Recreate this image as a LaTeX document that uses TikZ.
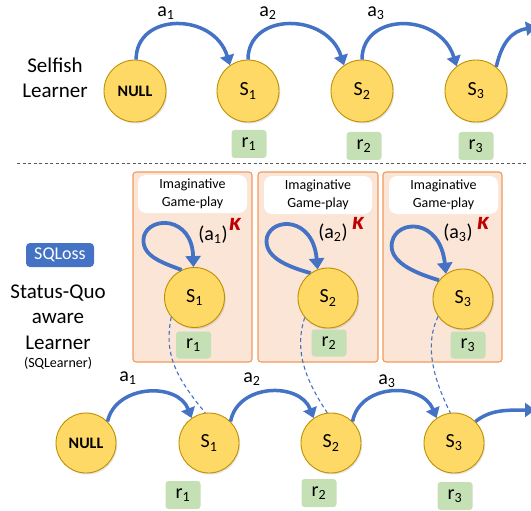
\documentclass[tikz,border=0pt]{standalone}
\usepackage{fontspec}
\setmainfont{Carlito}
\usetikzlibrary{arrows.meta,shadows}
\definecolor{arrowblue}{HTML}{4472C4}
\definecolor{goldfill}{HTML}{FFD966}
\definecolor{goldline}{HTML}{BF9000}
\definecolor{rgreen}{HTML}{C5E0B4}
\definecolor{boxfill}{HTML}{FBE5D6}
\definecolor{boxline}{HTML}{F19A5E}
\definecolor{kred}{HTML}{C00000}
\definecolor{sepgray}{HTML}{595959}
\tikzset{
  stnode/.style={circle, fill=goldfill, draw=goldline, line width=0.9pt, minimum size=62pt, inner sep=0pt,
    font=\fontsize{20}{22}\selectfont,
    drop shadow={opacity=0.22, shadow xshift=1.2pt, shadow yshift=-1.5pt}},
  smallst/.style={stnode, minimum size=60pt},
  nullfont/.style={font=\bfseries\fontsize{16}{17}\selectfont},
  rbox/.style={fill=rgreen, rounded corners=3pt, minimum width=35pt, minimum height=28pt, inner sep=0pt,
    font=\fontsize{20}{22}\selectfont},
  lbl/.style={inner sep=0pt, font=\fontsize{20}{22}\selectfont},
  act/.style={draw=arrowblue, line width=3.5pt, -{Triangle[width=14pt,length=10pt]}},
  loopact/.style={draw=arrowblue, line width=3.8pt, -{Triangle[width=15pt,length=11pt]}},
  dline/.style={draw=arrowblue, line width=1.1pt, dash pattern=on 4pt off 3pt},
  sepline/.style={draw=sepgray, line width=0.9pt, dash pattern=on 3pt off 2.5pt},
  imbox/.style={fill=boxfill, draw=boxline, line width=1.1pt, rounded corners=3pt, minimum height=190pt, inner sep=0pt},
  labbox/.style={fill=white, rounded corners=8pt, minimum height=38pt, inner sep=0pt, align=center,
    font=\fontsize{14}{18}\selectfont},
  bigtxt/.style={align=center, inner sep=0pt, font=\fontsize{21}{25.5}\selectfont},
  kappa/.style={inner sep=0pt, text=kred, font=\bfseries\itshape\fontsize{25}{26}\selectfont},
  sqbox/.style={fill=arrowblue, rounded corners=4pt, minimum width=68pt, minimum height=24pt, inner sep=0pt,
    text=white, font=\fontsize{18}{20}\selectfont}
}
\begin{document}
\begin{tikzpicture}[x=1pt,y=-1pt]
\useasboundingbox (0,0) rectangle (531,511);

% ---------- Selfish learner ----------
\node[bigtxt] (selfish) at (55,78) {Selfish\\Learner};

\node[stnode, nullfont] (n0) at (135,91) {NULL};
\node[stnode] (t1) at (248,91) {S\textsubscript{1}};
\node[stnode] (t2) at (362,91) {S\textsubscript{2}};
\node[stnode] (t3) at (476,91) {S\textsubscript{3}};

\node[rbox] (tr1) at (249,144) {r\textsubscript{1}};
\node[rbox] (tr2) at (364,146) {r\textsubscript{2}};
\node[rbox] (tr3) at (476,146) {r\textsubscript{3}};

\node[lbl] (ta1) at (166,13) {a\textsubscript{1}};
\node[lbl] (ta2) at (268,13) {a\textsubscript{2}};
\node[lbl] (ta3) at (376,13) {a\textsubscript{3}};

\coordinate (tend) at (536,27);
\draw[act] (n0.88) .. controls (136,12) and (214,12) .. (t1.125);
\draw[act] (t1.90) .. controls (248,12) and (327,12) .. (t2.125);
\draw[act] (t2.90) .. controls (362,12) and (440,12) .. (t3.128);
\draw[act] (t3.50) .. controls (502,42) and (512,31) .. (tend);

% separator
\coordinate (sepL) at (17,163);
\coordinate (sepR) at (528,163);
\draw[sepline] (sepL) -- (sepR);

% ---------- SQLearner ----------
\node[sqbox] (sq) at (60,255) {SQLoss};
\node[bigtxt] (sql) at (58,317) {Status-Quo\\aware\\Learner};
\node[inner sep=0pt, font=\fontsize{14}{16}\selectfont] (sqn) at (58,363) {(SQLearner)};

% imaginative boxes
\node[imbox, minimum width=119pt] (box1) at (192.5,267) {};
\node[imbox, minimum width=120pt] (box2) at (318,267) {};
\node[imbox, minimum width=119pt] (box3) at (442.5,267) {};

\node[labbox, minimum width=109pt] (lab1) at (192.5,194) {Imaginative\\Game-play};
\node[labbox, minimum width=108pt] (lab2) at (318,195) {Imaginative\\Game-play};
\node[labbox, minimum width=109pt] (lab3) at (443.5,195) {Imaginative\\Game-play};

\node[smallst] (s1in) at (194.5,297.5) {S\textsubscript{1}};
\node[smallst] (s2in) at (328,298) {S\textsubscript{2}};
\node[smallst] (s3in) at (463,299) {S\textsubscript{3}};

\node[rbox, minimum height=27pt] (ir1) at (193.5,345) {r\textsubscript{1}};
\node[rbox, minimum height=27pt] (ir2) at (329,343) {r\textsubscript{2}};
\node[rbox, minimum height=27pt] (ir3) at (468,345) {r\textsubscript{3}};

% self loops
\draw[loopact] (s1in.115) .. controls (160,262) and (140,255) .. (144,236)
   .. controls (150,216) and (192,216) .. (s1in.92);
\draw[loopact] (s2in.125) .. controls (285,266) and (263,256) .. (267,237)
   .. controls (273,217) and (313,217) .. (s2in.110);
\draw[loopact] (s3in.142) .. controls (415,273) and (388,262) .. (392,242)
   .. controls (397,219) and (440,218) .. (s3in.124);

\node[lbl] (al1) at (213,235) {(a\textsubscript{1})};
\node[kappa] (k1) at (235,224) {κ};
\node[lbl] (al2) at (333,233) {(a\textsubscript{2})};
\node[kappa] (k2) at (358,223) {κ};
\node[lbl] (al3) at (458,233) {(a\textsubscript{3})};
\node[kappa] (k3) at (483,223) {κ};

% bottom chain
\node[smallst, nullfont] (b0) at (86,443) {NULL};
\node[smallst] (b1) at (209,443) {S\textsubscript{1}};
\node[smallst] (b2) at (331,443) {S\textsubscript{2}};
\node[smallst] (b3) at (454,443) {S\textsubscript{3}};

\node[rbox] (br1) at (183,495) {r\textsubscript{1}};
\node[rbox] (br2) at (319,493) {r\textsubscript{2}};
\node[rbox] (br3) at (455,496) {r\textsubscript{3}};

\node[lbl] (ba1) at (128,378) {a\textsubscript{1}};
\node[lbl] (ba2) at (252,379) {a\textsubscript{2}};
\node[lbl] (ba3) at (387,381) {a\textsubscript{3}};

\coordinate (bend) at (535,410);
\draw[act] (b0.45) .. controls (116,384) and (178,382) .. (b1.125);
\draw[act] (b1.45) .. controls (238,383) and (300,382) .. (b2.125);
\draw[act] (b2.45) .. controls (360,383) and (422,382) .. (b3.125);
\draw[act] (b3.45) .. controls (490,410) and (505,410) .. (bend);

% dashed links
\draw[dline] (s1in.220) .. controls (165,350) and (171,372) .. (b1.97);
\draw[dline] (s2in.220) .. controls (296,345) and (300,372) .. (b2.97);
\draw[dline] (s3in.215) .. controls (426,342) and (430,372) .. (b3.97);
\end{tikzpicture}
\end{document}
